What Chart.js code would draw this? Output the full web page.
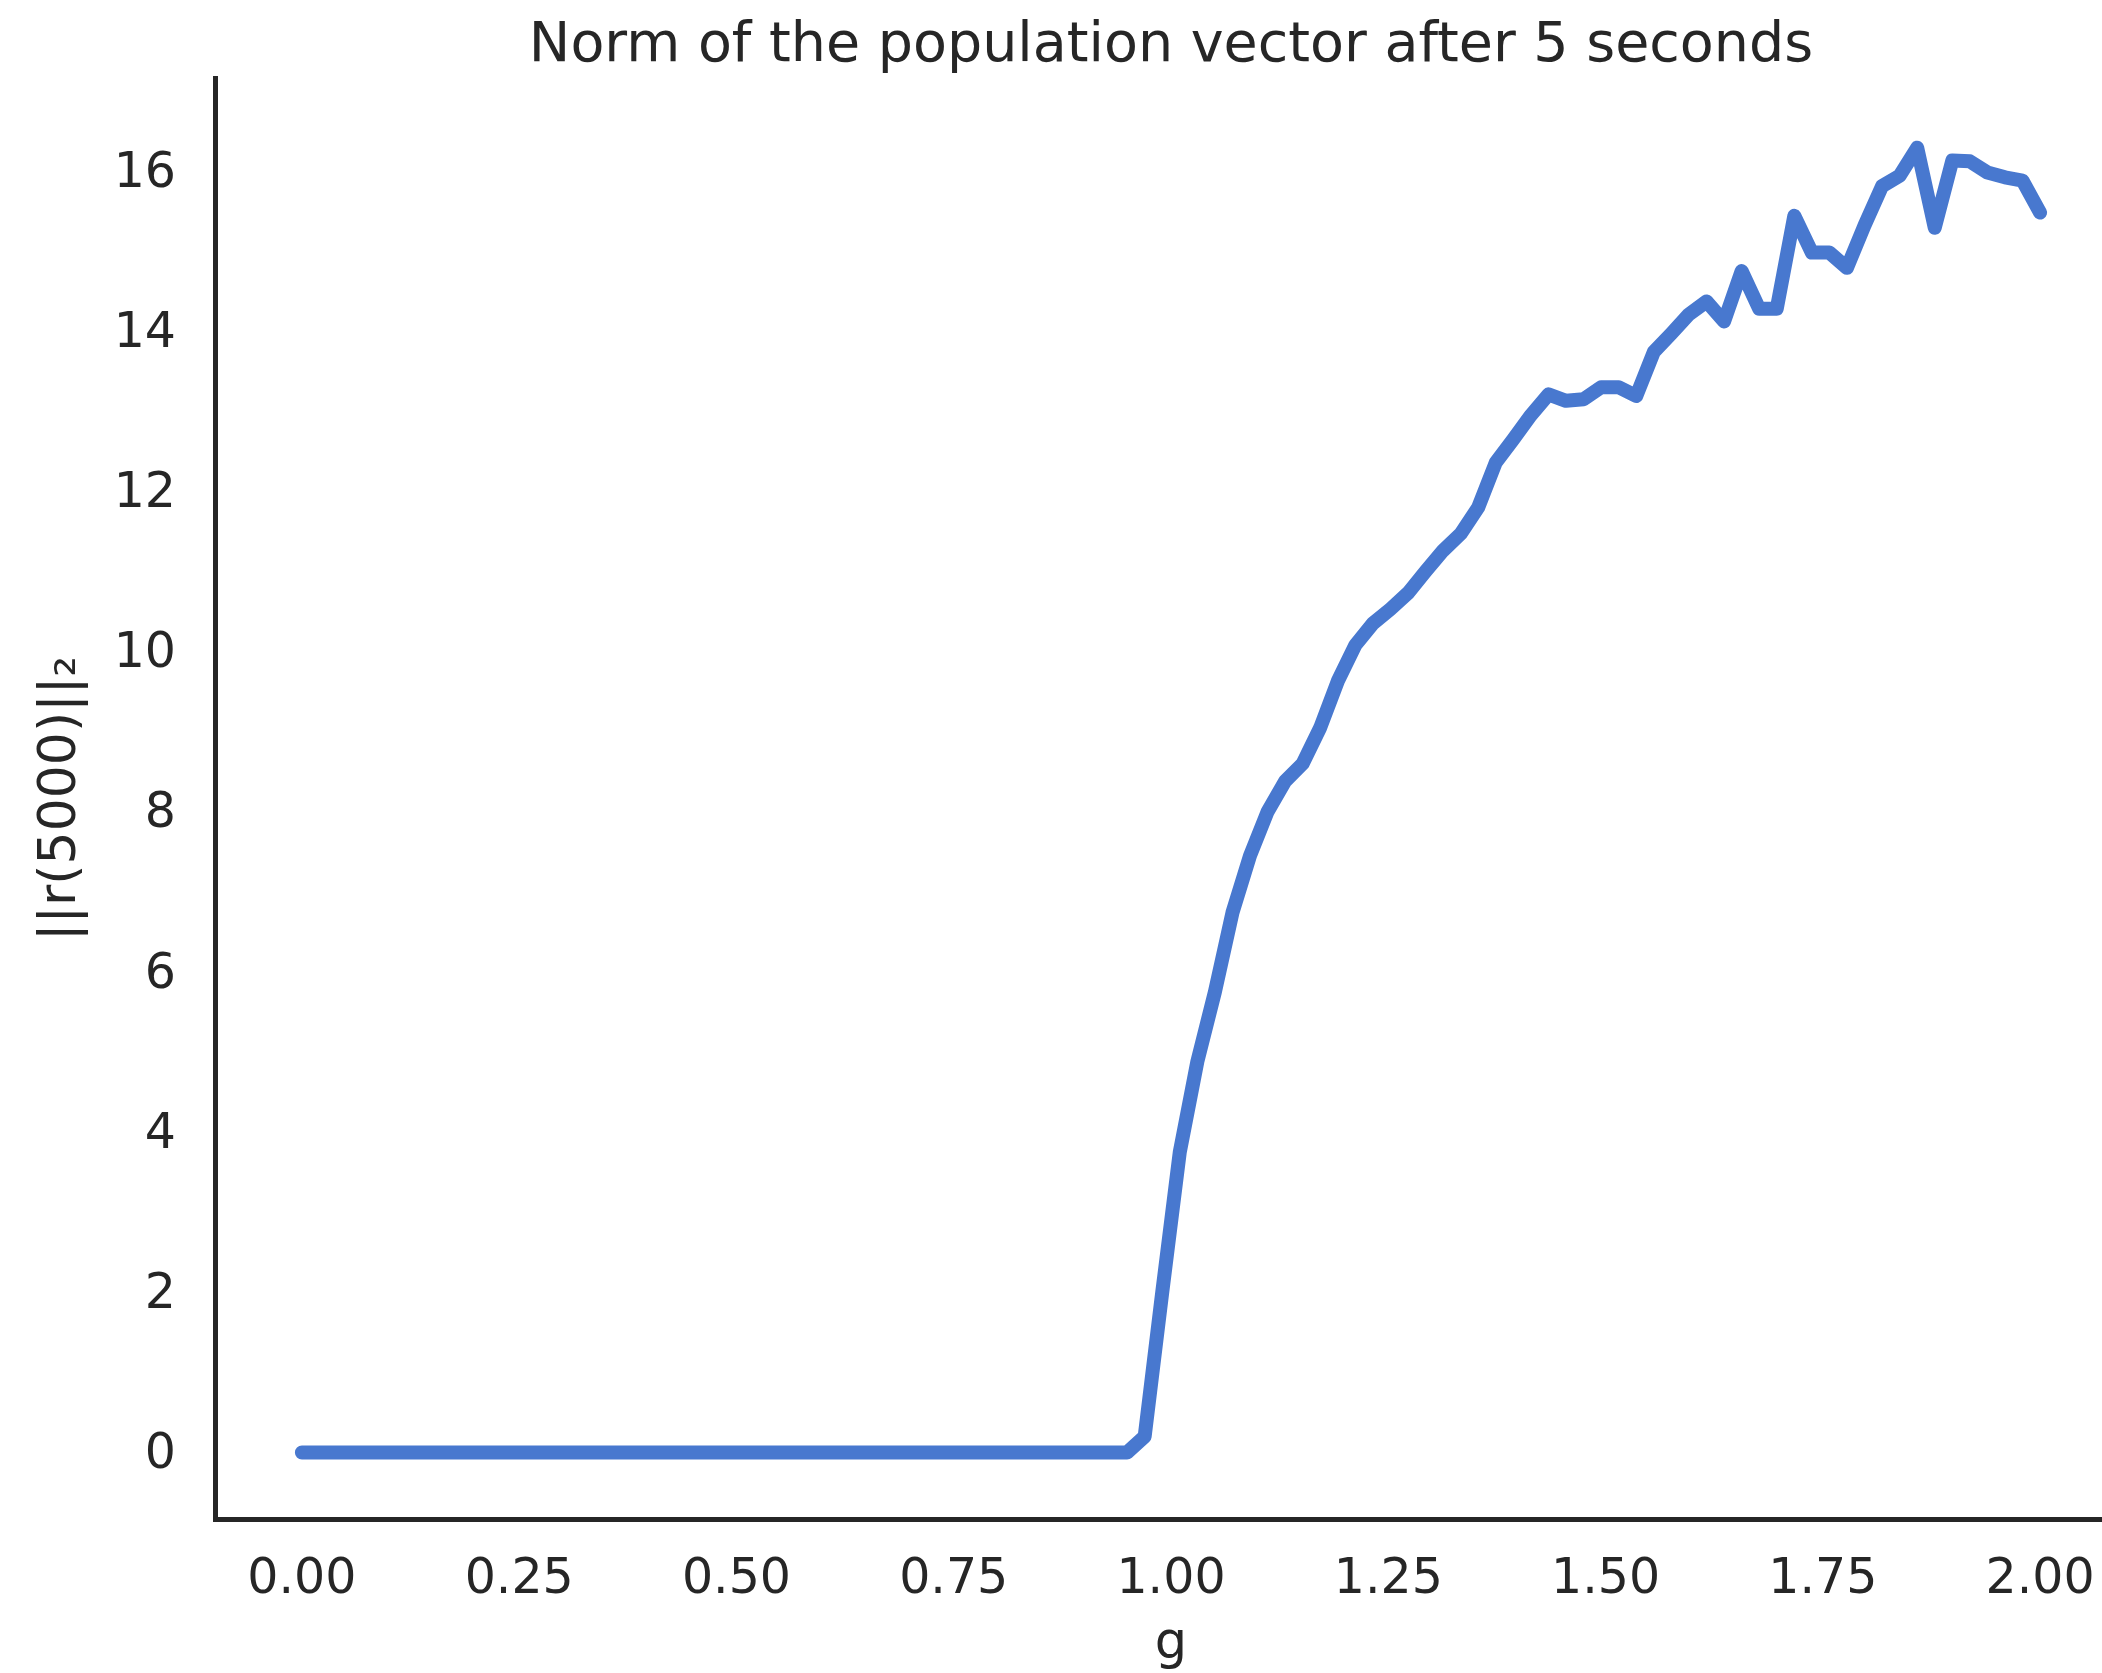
<!DOCTYPE html>
<html>
<head>
<meta charset="utf-8">
<script src="https://cdn.jsdelivr.net/npm/chart.js@4/dist/chart.umd.min.js"></script>
<style>
  html, body { margin: 0; padding: 0; background: #ffffff; overflow: hidden; width: 2102px; height: 1673px; }
  #wrap { position: absolute; left: 0; top: 0; width: 2240px; height: 1673px; }
  canvas { display: block; }
</style>
</head>
<body>
<div id="wrap"><canvas id="c" width="2240" height="1673"></canvas></div>
<script>
// ---- data ----
const chartTitle = "Norm of the population vector after 5 seconds";
const xAxisLabel = "g";
const yAxisLabel = "||r(5000)||\u2082";

const gValues = [
  0.0000, 0.0202, 0.0404, 0.0606, 0.0808, 0.1010, 0.1212, 0.1414, 0.1616, 0.1818,
  0.2020, 0.2222, 0.2424, 0.2626, 0.2828, 0.3030, 0.3232, 0.3434, 0.3636, 0.3838,
  0.4040, 0.4242, 0.4444, 0.4646, 0.4848, 0.5051, 0.5253, 0.5455, 0.5657, 0.5859,
  0.6061, 0.6263, 0.6465, 0.6667, 0.6869, 0.7071, 0.7273, 0.7475, 0.7677, 0.7879,
  0.8081, 0.8283, 0.8485, 0.8687, 0.8889, 0.9091, 0.9293, 0.9495, 0.9697, 0.9899,
  1.0101, 1.0303, 1.0505, 1.0707, 1.0909, 1.1111, 1.1313, 1.1515, 1.1717, 1.1919,
  1.2121, 1.2323, 1.2525, 1.2727, 1.2929, 1.3131, 1.3333, 1.3535, 1.3737, 1.3939,
  1.4141, 1.4343, 1.4545, 1.4747, 1.4949, 1.5152, 1.5354, 1.5556, 1.5758, 1.5960,
  1.6162, 1.6364, 1.6566, 1.6768, 1.6970, 1.7172, 1.7374, 1.7576, 1.7778, 1.7980,
  1.8182, 1.8384, 1.8586, 1.8788, 1.8990, 1.9192, 1.9394, 1.9596, 1.9798, 2.0000
];

const normValues = [
  0, 0, 0, 0, 0, 0, 0, 0, 0, 0,
  0, 0, 0, 0, 0, 0, 0, 0, 0, 0,
  0, 0, 0, 0, 0, 0, 0, 0, 0, 0,
  0, 0, 0, 0, 0, 0, 0, 0, 0, 0,
  0, 0, 0, 0, 0, 0, 0, 0, 0.20, 2.00,
  3.75, 4.88, 5.75, 6.74, 7.45, 8.00, 8.38, 8.60, 9.05, 9.63,
  10.08, 10.35, 10.53, 10.73, 11.00, 11.26, 11.47, 11.80, 12.36, 12.65,
  12.95, 13.21, 13.13, 13.15, 13.30, 13.30, 13.19, 13.74, 13.97, 14.21,
  14.37, 14.12, 14.75, 14.28, 14.28, 15.44, 14.98, 14.98, 14.79, 15.32,
  15.81, 15.94, 16.29, 15.29, 16.13, 16.12, 15.98, 15.92, 15.88, 15.48
];

const xTicks = [0, 0.25, 0.5, 0.75, 1.0, 1.25, 1.5, 1.75, 2.0];
const yTicks = [0, 2, 4, 6, 8, 10, 12, 14, 16];

// ---- chart ----
const textColor = "#262626";
const lineColor = "#4878CF";
Chart.defaults.font.family = "'DejaVu Sans', sans-serif";
Chart.defaults.color = textColor;

const points = gValues.map((g, i) => ({ x: g, y: normValues[i] }));

new Chart(document.getElementById("c"), {
  type: "line",
  data: {
    datasets: [{
      data: points,
      borderColor: lineColor,
      backgroundColor: lineColor,
      borderWidth: 14,
      borderCapStyle: "round",
      borderJoinStyle: "round",
      pointRadius: 0,
      tension: 0,
      fill: false
    }]
  },
  options: {
    responsive: false,
    animation: false,
    devicePixelRatio: 1,
    layout: { padding: { left: 0, right: 113, top: 0, bottom: 0 } },
    plugins: {
      legend: { display: false },
      tooltip: { enabled: false },
      title: {
        display: true,
        text: chartTitle,
        fullSize: false,
        color: textColor,
        font: { size: 55.5, weight: "normal", lineHeight: 1.1 },
        padding: { top: 16.5, bottom: 0.45 }
      }
    },
    scales: {
      x: {
        type: "linear",
        min: -0.1,
        max: 2.1,
        afterFit: (s) => { s.height = 154; },
        afterBuildTicks: (s) => { s.ticks = xTicks.map(v => ({ value: v })); },
        grid: { display: false, drawTicks: false },
        border: { display: true, color: textColor, width: 5 },
        ticks: {
          color: textColor,
          font: { size: 49 },
          padding: 32,
          maxRotation: 0,
          autoSkip: false,
          callback: (v) => Number(v).toFixed(2)
        },
        title: {
          display: true,
          text: xAxisLabel,
          color: textColor,
          font: { size: 51, lineHeight: 1.0 },
          padding: { top: 0, bottom: 3 }
        }
      },
      y: {
        type: "linear",
        min: -0.83,
        max: 17.16,
        afterFit: (s) => { s.width = 215; },
        afterBuildTicks: (s) => { s.ticks = yTicks.map(v => ({ value: v })); },
        grid: { display: false, drawTicks: false },
        border: { display: true, color: textColor, width: 5 },
        ticks: {
          color: textColor,
          font: { size: 49 },
          padding: 39,
          labelOffset: 3,
          autoSkip: false,
          callback: (v) => String(v)
        },
        title: {
          display: true,
          text: yAxisLabel,
          color: textColor,
          font: { size: 52 },
          padding: { top: 30, bottom: 0 }
        }
      }
    }
  }
});
</script>
</body>
</html>
